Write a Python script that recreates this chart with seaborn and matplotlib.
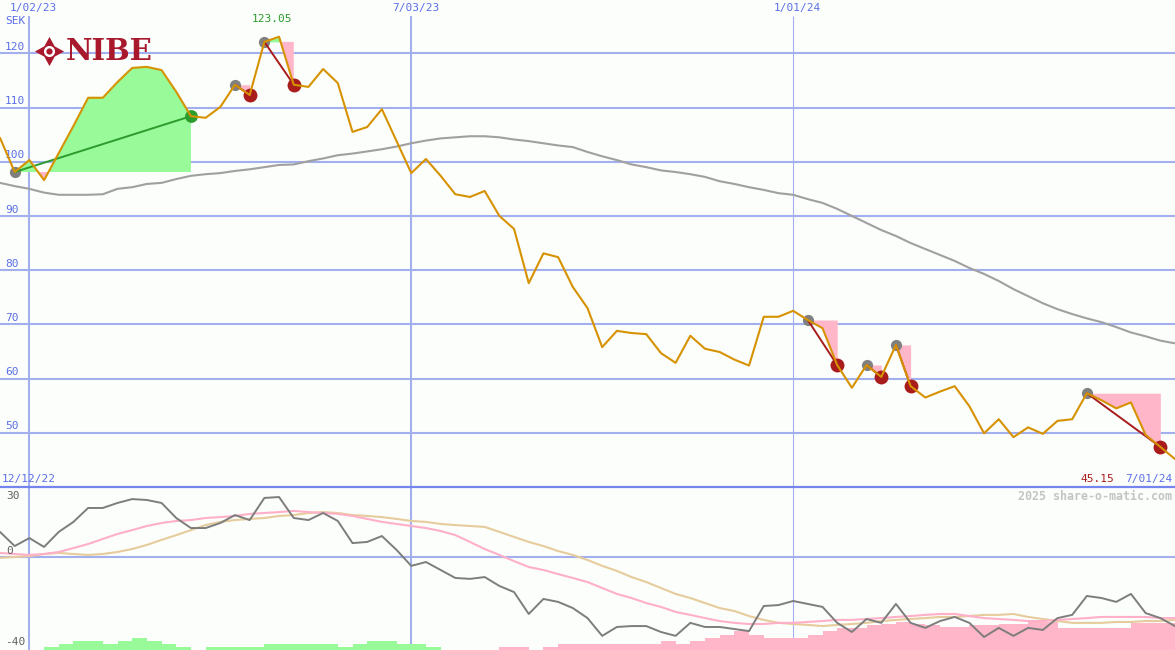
import numpy as np
import pandas as pd
import matplotlib
matplotlib.use("Agg")
import matplotlib.pyplot as plt
import matplotlib.dates as mdates
import matplotlib.transforms as mtransforms
import seaborn as sns

# weekly closes NIBE (SEK), first week 19 Dec 2022
first_week = "2022-12-19"
close = [104.4, 98.1, 100.3, 96.6, 101.6, 106.6, 111.8, 111.8, 114.7, 117.3,
         117.5, 116.9, 112.9, 108.4, 108.1, 110.1, 114.2, 112.3, 122.1, 123.05,
         114.2, 113.8, 117.1, 114.5, 105.5, 106.4, 109.7, 103.8, 97.9, 100.5,
         97.4, 94.0, 93.5, 94.6, 90.0, 87.6, 77.6, 83.1, 82.4, 76.9,
         73.0, 65.8, 68.8, 68.4, 68.2, 64.7, 62.9, 67.9, 65.5, 64.9,
         63.5, 62.4, 71.4, 71.4, 72.5, 70.8, 69.3, 62.5, 58.3, 62.5,
         60.3, 66.2, 58.6, 56.5, 57.6, 58.6, 54.9, 49.9, 52.5, 49.2,
         51.0, 49.8, 52.2, 52.5, 57.3, 56.0, 54.5, 55.6, 49.6, 47.4,
         45.15]

# long moving average (gray)
ma_long = [96.1, 95.5, 95.0, 94.3, 93.9, 93.9, 93.9, 94.0, 95.0, 95.3,
           95.9, 96.1, 96.8, 97.4, 97.7, 97.9, 98.3, 98.6, 99.0, 99.4,
           99.5, 100.1, 100.6, 101.2, 101.5, 101.9, 102.3, 102.8, 103.4, 103.9,
           104.3, 104.5, 104.7, 104.7, 104.5, 104.1, 103.8, 103.4, 103.0, 102.7,
           101.8, 101.0, 100.3, 99.5, 99.0, 98.4, 98.1, 97.7, 97.2, 96.4,
           95.9, 95.3, 94.8, 94.2, 93.9, 93.1, 92.4, 91.3, 90.0, 88.7,
           87.4, 86.3, 85.0, 83.9, 82.8, 81.7, 80.4, 79.3, 78.0, 76.5,
           75.2, 73.9, 72.8, 71.9, 71.1, 70.4, 69.5, 68.5, 67.8, 67.0,
           66.5]

# lower panel indicator
osc = [11.0, 4.8, 8.3, 4.4, 11.0, 15.4, 21.5, 21.5, 23.7, 25.4,
       25.0, 23.7, 17.1, 12.7, 12.7, 14.9, 18.4, 16.2, 25.9, 26.3,
       17.1, 16.2, 19.3, 15.8, 6.1, 6.6, 9.2, 3.1, -3.9, -2.2,
       -5.7, -9.2, -9.6, -8.8, -12.7, -15.4, -25.0, -18.4, -19.7, -22.4,
       -26.8, -34.6, -30.7, -30.3, -30.3, -32.9, -34.6, -28.9, -30.7, -30.7,
       -31.6, -32.5, -21.5, -21.1, -19.3, -20.6, -21.9, -28.9, -32.9, -27.2,
       -28.9, -20.6, -28.9, -31.1, -28.1, -26.3, -28.9, -35.1, -31.1, -34.6,
       -31.1, -32.0, -26.8, -25.4, -17.1, -18.0, -19.7, -16.2, -24.6, -26.8,
       -30.3]
osc_fast = [1.8, 1.3, 0.9, 1.3, 2.2, 3.9, 5.7, 7.9, 10.1, 11.8,
            13.6, 14.9, 15.8, 16.2, 17.1, 17.5, 18.0, 18.9, 19.3, 19.7,
            20.2, 19.7, 19.3, 18.9, 18.0, 16.7, 15.4, 14.5, 13.6, 12.7,
            11.4, 9.6, 6.6, 3.5, 0.9, -1.8, -4.4, -5.7, -7.5, -9.2,
            -11.0, -13.6, -16.2, -18.0, -20.2, -21.9, -24.1, -25.4, -26.8, -28.1,
            -28.9, -29.4, -29.4, -28.9, -28.9, -28.5, -28.1, -27.6, -27.6, -27.2,
            -26.8, -26.3, -25.9, -25.4, -25.0, -25.0, -25.9, -26.8, -27.2, -27.6,
            -28.1, -28.1, -27.6, -27.2, -26.8, -26.3, -26.3, -26.3, -26.3, -26.8,
            -26.8]
osc_slow = [-0.4, 0.0, 0.4, 1.3, 1.8, 1.3, 0.9, 1.3, 2.2, 3.5,
            5.3, 7.5, 9.6, 11.8, 14.0, 15.4, 16.2, 16.7, 17.1, 18.0,
            18.4, 19.3, 19.7, 19.3, 18.4, 18.0, 17.5, 16.7, 15.8, 15.4,
            14.5, 14.0, 13.6, 13.2, 11.0, 8.8, 6.6, 4.8, 2.6, 0.9,
            -1.3, -3.9, -6.1, -8.8, -11.0, -13.6, -16.2, -18.0, -20.2, -22.4,
            -23.7, -25.9, -27.6, -28.9, -29.4, -29.8, -30.3, -29.8, -29.4, -28.9,
            -28.1, -27.6, -27.2, -26.8, -26.3, -26.3, -25.9, -25.4, -25.4, -25.0,
            -26.3, -27.2, -28.1, -28.9, -28.9, -28.9, -28.5, -28.5, -28.1, -28.1,
            -27.6]
osc_hist = [0, 0, 0, 1.3, 2.6, 3.9, 3.9, 2.6, 3.9, 5.3,
            3.9, 2.6, 1.3, 0, 1.3, 1.3, 1.3, 1.3, 2.6, 2.6,
            2.6, 2.6, 2.6, 1.3, 2.6, 3.9, 3.9, 2.6, 2.6, 1.3,
            0, 0, 0, 0, -1.3, -1.3, 0, -1.3, -2.6, -2.6,
            -2.6, -2.6, -2.6, -2.6, -2.6, -3.9, -2.6, -3.9, -5.3, -6.6,
            -8.3, -6.6, -5.3, -5.3, -5.3, -6.6, -8.3, -9.6, -9.6, -11.0,
            -11.4, -12.3, -11.4, -11.0, -10.1, -10.1, -11.0, -11.0, -11.4, -11.4,
            -12.3, -12.3, -9.6, -9.6, -9.6, -9.6, -9.6, -11.8, -11.8, -11.8,
            -11.8]

# trade signals: (start week, end week, direction)
signals = [(1, 13, "up"), (16, 17, "down"), (18, 20, "down"), (55, 57, "down"),
           (59, 60, "down"), (61, 62, "down"), (74, 79, "down")]

price_levels = [50, 60, 70, 80, 90, 100, 110, 120]
date_lines = ["2023-01-02", "2023-07-03", "2024-01-01"]
date_texts = ["1/02/23", "7/03/23", "1/01/24"]

W, H = 1175, 650
BG = "#fcfefb"
GRID = "#a3b0f0"
SEP = "#7485ee"
BLUE_TXT = "#5b6fe8"
ORANGE = "#d69200"
GREEN_FILL = "#98fa98"
PINK_FILL = "#ffb6c8"
RED = "#a81c1c"
GREEN = "#2c9c2c"
FS = 8

dates = pd.date_range(first_week, periods=len(close), freq="7D")
df = pd.DataFrame({"date": dates, "close": close, "ma": ma_long, "osc": osc,
                   "fast": osc_fast, "slow": osc_slow, "hist": osc_hist})
xn = mdates.date2num(df["date"])

sns.set_style("white")
plt.rcParams["font.family"] = ["DejaVu Sans Mono", "DejaVu Sans"]

fig = plt.figure(figsize=(W / 100, H / 100), dpi=100, facecolor=BG)
split = 163 / H
ax = fig.add_axes([0, split, 1, 1 - split])
ax2 = fig.add_axes([0, 0, 1, split])


def px(x, y):
    return x / W, 1 - y / H


# ---- top panel: price ----
top_lo, top_hi = 40, 129.83
for v in price_levels:
    ax.axhline(v, color=GRID, lw=1.5, zorder=1)
for d, lw in zip(date_lines, [1.5, 1.5, 0.8]):
    dn = mdates.date2num(pd.Timestamp(d))
    ax.vlines(dn, top_lo, 126.9, color=GRID, lw=lw, zorder=1)
    ax2.axvline(dn, color=GRID, lw=lw, zorder=1)

for s, e, kind in signals:
    seg = np.array(close[s:e + 1])
    lvl = close[s]
    ax.fill_between(xn[s:e + 1], seg, lvl, where=seg >= lvl, interpolate=True,
                    color=GREEN_FILL, lw=0, zorder=2)
    ax.fill_between(xn[s:e + 1], seg, lvl, where=seg <= lvl, interpolate=True,
                    color=PINK_FILL, lw=0, zorder=2)
    c = GREEN if kind == "up" else RED
    ax.plot([xn[s], xn[e]], [close[s], close[e]], color=c, lw=1.4, zorder=4)

starts = [s for s, _, _ in signals]
ends_up = [e for _, e, k in signals if k == "up"]
ends_dn = [e for _, e, k in signals if k == "down"]
sns.scatterplot(data=df.iloc[starts], x="date", y="close", ax=ax, s=65,
                color="#808080", linewidth=0, zorder=3)
sns.scatterplot(data=df.iloc[ends_dn], x="date", y="close", ax=ax, s=100,
                color=RED, linewidth=0, zorder=3)
sns.scatterplot(data=df.iloc[ends_up], x="date", y="close", ax=ax, s=85,
                color=GREEN, linewidth=0, zorder=3)

sns.lineplot(data=df, x="date", y="ma", ax=ax, color="#a0a0a0", lw=1.5, zorder=3)
sns.lineplot(data=df, x="date", y="close", ax=ax, color=ORANGE, lw=1.5, zorder=5)

ax.set_xlim(xn[0], xn[-1])
ax.set_ylim(top_lo, top_hi)
ax.set_axis_off()

# price labels
ylab_tr = mtransforms.blended_transform_factory(ax.transAxes, ax.transData)
for v in price_levels:
    ax.text(5 / W, v + 0.25, str(v), transform=ylab_tr, ha="left", va="bottom",
            fontsize=FS, color=BLUE_TXT)
date_tr = mtransforms.blended_transform_factory(ax.transData, fig.transFigure)
for d, t in zip(date_lines, date_texts):
    ax.text(mdates.date2num(pd.Timestamp(d)) + 2, px(0, 8)[1], t, transform=date_tr,
            ha="center", va="center", fontsize=FS, color=BLUE_TXT)

imax = int(np.argmax(close))
ax.annotate(f"{close[imax]:.2f}", (xn[imax], close[imax]), xytext=(-7, 18),
            textcoords="offset pixels", ha="center", va="center", fontsize=FS, color=GREEN)

fig.text(*px(5, 21), "SEK", ha="left", va="center", fontsize=FS, color=BLUE_TXT)
fig.text(*px(2, 479), "12/12/22", ha="left", va="center", fontsize=FS, color=BLUE_TXT)
fig.text(*px(1172, 479), "7/01/24", ha="right", va="center", fontsize=FS, color=BLUE_TXT)
fig.text(*px(1097, 479), f"{close[-1]:.2f}", ha="center", va="center", fontsize=FS, color=RED)
fig.text(*px(1172, 496), "2025 share-o-matic.com", ha="right", va="center",
         fontsize=8.4, fontweight="bold", color="#c4c4c4")

# logo
lx, ly = px(49, 51)
ax.plot([lx], [ly], marker=(4, 1, 0), ms=21, color="#a8192e", mew=0,
        transform=fig.transFigure, clip_on=False, zorder=7)
ax.plot([lx], [ly], marker="o", ms=8, color="white", mew=0,
        transform=fig.transFigure, clip_on=False, zorder=7)
ax.plot([lx], [ly], marker="o", ms=4.5, color="#a8192e", mew=0,
        transform=fig.transFigure, clip_on=False, zorder=7)
fig.text(*px(66, 51), "NIBE", ha="left", va="center", fontsize=21,
         fontweight="bold", family="DejaVu Serif", color="#a8192e")

# ---- bottom panel: indicator ----
bot_lo, bot_hi = -40.8, 30.7
ax2.axhline(0, color=GRID, lw=1.5, zorder=1)
hist = np.array(osc_hist)
ax2.bar(xn, np.abs(hist), width=7, bottom=bot_lo, align="edge",
        color=[GREEN_FILL if h > 0 else PINK_FILL for h in hist], lw=0, zorder=2)
sns.lineplot(data=df, x="date", y="slow", ax=ax2, color="#e6cc9c", lw=1.5, zorder=3)
sns.lineplot(data=df, x="date", y="fast", ax=ax2, color="#ffb0c8", lw=1.5, zorder=3)
sns.lineplot(data=df, x="date", y="osc", ax=ax2, color="#7d7d7d", lw=1.4, zorder=4)
ax2.axhline(bot_hi, color=SEP, lw=1.6, clip_on=False, zorder=6)
ax2.set_xlim(xn[0], xn[-1])
ax2.set_ylim(bot_lo, bot_hi)
ax2.set_axis_off()

fig.text(*px(6, 496), "30", ha="left", va="center", fontsize=FS, color="#606060")
fig.text(*px(6, 551), "0", ha="left", va="center", fontsize=FS, color="#606060")
fig.text(*px(5, 642), "-40", ha="left", va="center", fontsize=FS, color="#606060")

fig.savefig("out.png", dpi=100, facecolor=BG)
